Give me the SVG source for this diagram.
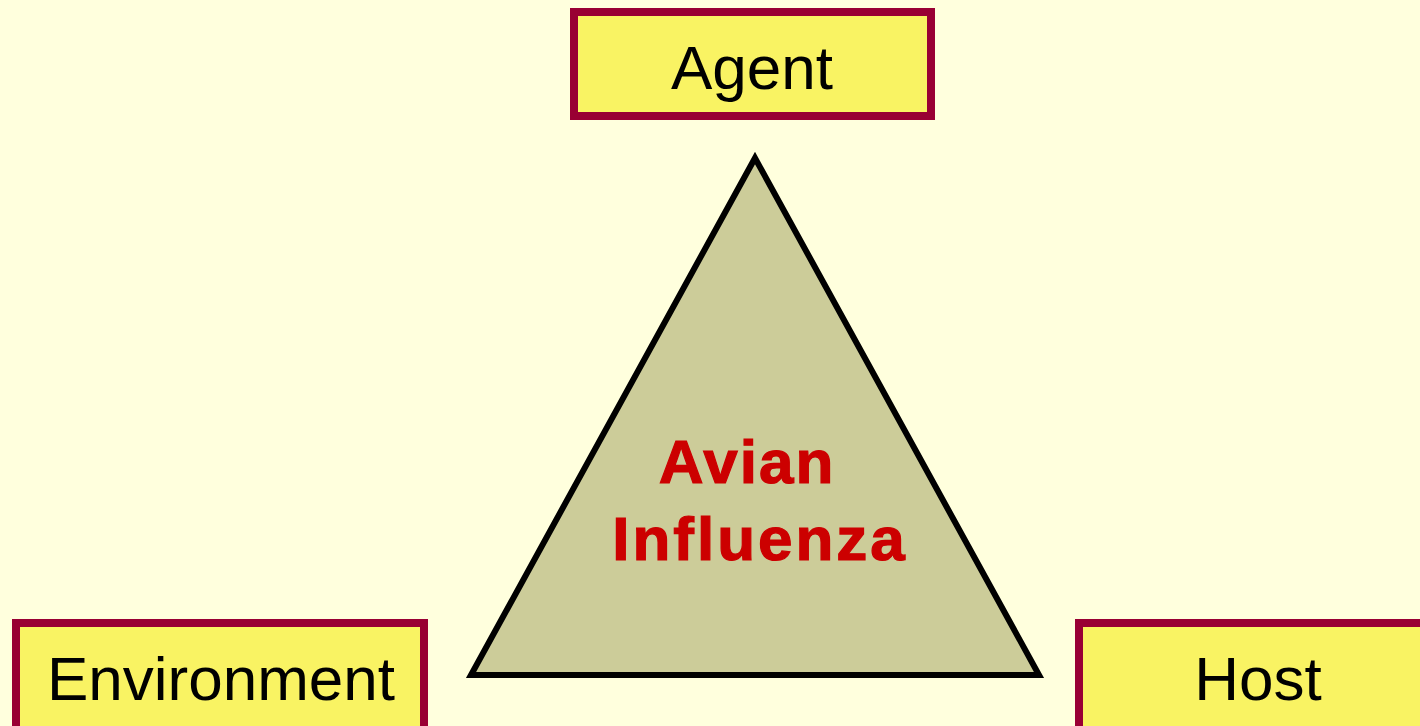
<svg xmlns="http://www.w3.org/2000/svg" width="1420" height="726" viewBox="0 0 1420 726">
<style>
.box{fill:#F9F363;stroke:#990033;stroke-width:8}
.lbl{font-family:"Liberation Sans",Arial,sans-serif;font-size:62px;fill:#000;text-anchor:middle}
.title{font-family:"Liberation Sans",Arial,sans-serif;font-size:62px;font-weight:bold;fill:#CC0000;stroke:#CC0000;stroke-width:1.2;text-anchor:middle}
</style>
<rect x="0" y="0" width="1420" height="726" fill="#FFFFDD"/>
<g id="connectors"></g>
<g id="triangle">
<polygon points="755,158 471,675 1039,675" fill="#CCCC99" stroke="#000" stroke-width="6" stroke-linejoin="miter"/>
<text class="title" x="747" y="483" letter-spacing="2">Avian</text>
<text class="title" x="760" y="560" letter-spacing="3">Influenza</text>
</g>
<g id="agent">
<rect class="box" x="574" y="12" width="357" height="104"/>
<text class="lbl" x="752" y="89">Agent</text>
</g>
<g id="environment">
<rect class="box" x="16" y="623" width="408" height="120"/>
<text class="lbl" x="221" y="700">Environment</text>
</g>
<g id="host">
<rect class="box" x="1079" y="623" width="360" height="120"/>
<text class="lbl" x="1258" y="700">Host</text>
</g>
</svg>
